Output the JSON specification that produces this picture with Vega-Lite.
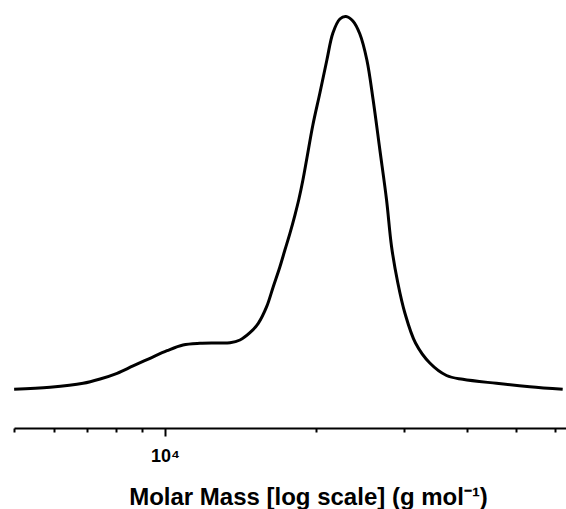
{
  "$schema": "https://vega.github.io/schema/vega-lite/v6.json",
  "autosize": "none",
  "width": 552,
  "height": 428,
  "padding": {"left": 14, "top": 0, "right": 0, "bottom": 81},
  "background": "white",
  "config": {"view": {"stroke": null}},
  "data": {"values": [
    {"mass": 5003, "intensity": 0.094},
    {"mass": 5901, "intensity": 0.0989},
    {"mass": 6866, "intensity": 0.1086},
    {"mass": 7423, "intensity": 0.1191},
    {"mass": 8026, "intensity": 0.1329},
    {"mass": 8636, "intensity": 0.1507},
    {"mass": 9336, "intensity": 0.1694},
    {"mass": 10092, "intensity": 0.1878},
    {"mass": 10861, "intensity": 0.2017},
    {"mass": 11741, "intensity": 0.2058},
    {"mass": 12694, "intensity": 0.2066},
    {"mass": 13475, "intensity": 0.2073},
    {"mass": 14106, "intensity": 0.2139},
    {"mass": 14767, "intensity": 0.2316},
    {"mass": 15343, "intensity": 0.2544},
    {"mass": 15945, "intensity": 0.2948},
    {"mass": 16435, "intensity": 0.3434},
    {"mass": 16947, "intensity": 0.392},
    {"mass": 17338, "intensity": 0.4326},
    {"mass": 17742, "intensity": 0.4731},
    {"mass": 18155, "intensity": 0.5176},
    {"mass": 18490, "intensity": 0.5565},
    {"mass": 18832, "intensity": 0.6027},
    {"mass": 19181, "intensity": 0.6561},
    {"mass": 19713, "intensity": 0.7363},
    {"mass": 20358, "intensity": 0.8141},
    {"mass": 21021, "intensity": 0.8943},
    {"mass": 21611, "intensity": 0.9599},
    {"mass": 22315, "intensity": 0.9939},
    {"mass": 22940, "intensity": 1.0},
    {"mass": 23686, "intensity": 0.9891},
    {"mass": 24458, "intensity": 0.9575},
    {"mass": 25258, "intensity": 0.8943},
    {"mass": 25997, "intensity": 0.7971},
    {"mass": 26812, "intensity": 0.6756},
    {"mass": 27647, "intensity": 0.5541},
    {"mass": 28290, "intensity": 0.4406},
    {"mass": 29117, "intensity": 0.3523},
    {"mass": 30070, "intensity": 0.2795},
    {"mass": 31575, "intensity": 0.2066},
    {"mass": 33720, "intensity": 0.1579},
    {"mass": 36407, "intensity": 0.1276},
    {"mass": 39226, "intensity": 0.1183},
    {"mass": 45794, "intensity": 0.1086},
    {"mass": 53355, "intensity": 0.1004},
    {"mass": 62051, "intensity": 0.094}
  ]},
  "mark": {"type": "line", "color": "black", "strokeWidth": 3, "interpolate": "catmull-rom"},
  "encoding": {
    "x": {
      "field": "mass",
      "type": "quantitative",
      "scale": {"type": "log", "domain": [5000, 63000], "nice": false},
      "axis": {
        "values": [5000, 6000, 7000, 8000, 9000, 10000, 20000, 30000, 40000, 50000, 60000],
        "labelExpr": "datum.value == 10000 ? '10⁴' : ''",
        "domainColor": "black",
        "domainWidth": 2,
        "tickColor": "black",
        "tickWidth": 2,
        "tickSize": {"condition": {"test": "datum.value == 10000", "value": 8}, "value": 4},
        "grid": false,
        "labelFont": "Liberation Sans",
        "labelFontWeight": "bold",
        "labelFontSize": 18,
        "labelColor": "black",
        "labelBaseline": "alphabetic",
        "labelPadding": 25,
        "labelFlush": false,
        "labelOverlap": false,
        "title": "Molar Mass [log scale] (g mol⁻¹)",
        "titleFont": "Liberation Sans",
        "titleFontSize": 24,
        "titleFontWeight": "bold",
        "titleColor": "black",
        "titleX": 294,
        "titleY": 76,
        "titleAlign": "center",
        "titleBaseline": "alphabetic"
      }
    },
    "y": {
      "field": "intensity",
      "type": "quantitative",
      "scale": {"domain": [0, 1.0401], "nice": false, "zero": false},
      "axis": null
    }
  }
}
